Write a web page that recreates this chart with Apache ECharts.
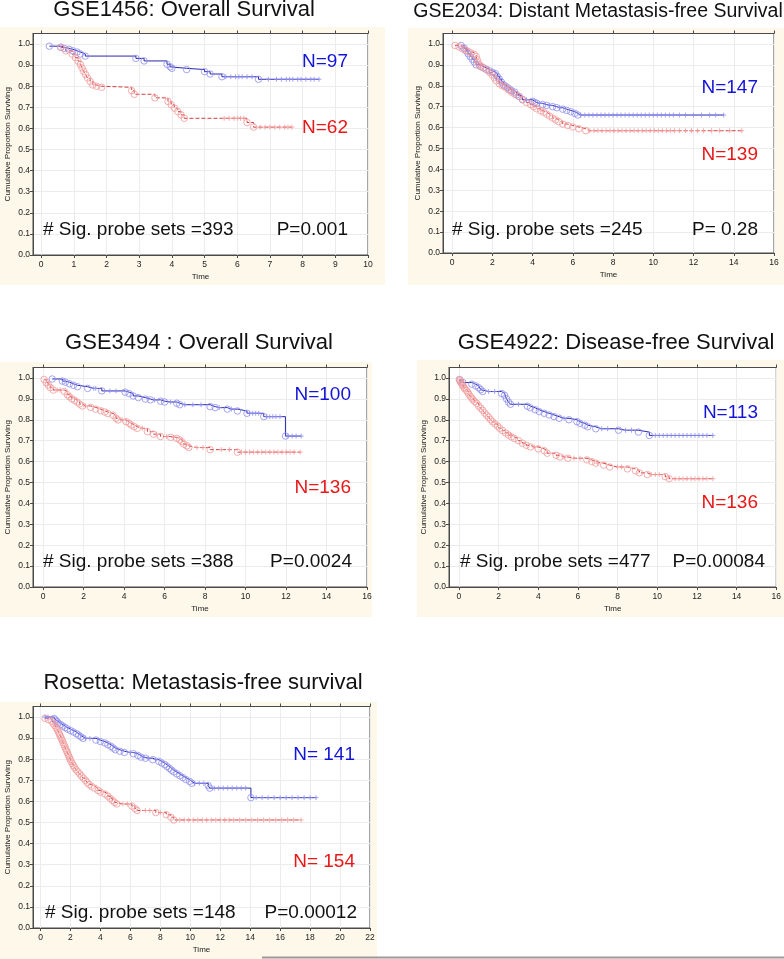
<!DOCTYPE html>
<html><head><meta charset="utf-8">
<script src="https://cdn.jsdelivr.net/npm/echarts@6/dist/echarts.min.js"></script>
<style>html,body{margin:0;padding:0;background:#fff}#c{width:784px;height:959px}</style>
</head><body><div id="c"></div>
<script>
// ---------------- DATA ----------------
const titles = ['GSE1456: Overall Survival', 'GSE2034: Distant Metastasis-free Survival', 'GSE3494 : Overall Survival', 'GSE4922: Disease-free Survival', 'Rosetta: Metastasis-free survival'];
const blueLabels = ['N=97', 'N=147', 'N=100', 'N=113', 'N= 141'];
const redLabels = ['N=62', 'N=139', 'N=136', 'N=136', 'N= 154'];
const sigLabels = ['# Sig. probe sets =393', '# Sig. probe sets =245', '# Sig. probe sets =388', '# Sig. probe sets =477', '# Sig. probe sets =148'];
const pLabels = ['P=0.001', 'P= 0.28', 'P=0.0024', 'P=0.00084', 'P=0.00012'];

const xTicks10 = [0,1,2,3,4,5,6,7,8,9,10];
const xTicks16 = [0,2,4,6,8,10,12,14,16];
const xTicks22 = [0,2,4,6,8,10,12,14,16,18,20,22];
const yTicks = [0,0.1,0.2,0.3,0.4,0.5,0.6,0.7,0.8,0.9,1.0];
const xMax = [10, 16, 16, 16, 22];

// Kaplan-Meier events [time, survival after event] and censored times
const p1BlueEvents = [[0.25,0.99],[0.6,0.985],[0.7,0.98],[0.85,0.975],[0.97,0.968],[1.1,0.962],[1.2,0.953],[1.35,0.943],[2.9,0.932],[3.15,0.92],[3.85,0.904],[3.95,0.892],[4.0,0.885],[4.45,0.879],[5.0,0.869],[5.17,0.858],[5.53,0.845],[6.65,0.833]];
const p1BlueCens = [5.65,5.8,5.95,6.05,6.15,6.3,6.45,6.95,7.2,7.35,7.5,7.6,7.7,7.85,7.95,8.1,8.25,8.35,8.5];
const p1RedEvents = [[0.6,0.984],[0.75,0.968],[0.95,0.952],[1.05,0.935],[1.13,0.919],[1.2,0.903],[1.25,0.887],[1.3,0.871],[1.36,0.855],[1.42,0.839],[1.5,0.823],[1.58,0.806],[1.7,0.8],[1.85,0.795],[2.77,0.779],[2.85,0.762],[3.48,0.745],[3.88,0.728],[3.98,0.712],[4.08,0.696],[4.18,0.68],[4.28,0.664],[4.38,0.648],[6.3,0.628],[6.5,0.606]];
const p1RedCens = [5.6,5.75,5.9,6.0,6.1,6.2,6.7,6.85,7.0,7.15,7.3,7.45,7.55,7.67];

const p2BlueEvents = [[0.45,0.993],[0.6,0.98],[0.7,0.967],[0.8,0.953],[0.9,0.94],[1.0,0.927],[1.1,0.914],[1.2,0.9],[1.4,0.893],[1.55,0.886],[1.7,0.879],[1.85,0.872],[2.0,0.865],[2.15,0.858],[2.25,0.845],[2.35,0.832],[2.45,0.818],[2.55,0.805],[2.65,0.798],[2.75,0.791],[2.85,0.784],[2.95,0.777],[3.1,0.77],[3.2,0.757],[3.35,0.748],[3.5,0.733],[4.0,0.726],[4.1,0.72],[4.2,0.716],[4.5,0.71],[4.7,0.706],[5.0,0.7],[5.2,0.695],[5.5,0.688],[5.7,0.682],[5.9,0.676],[6.1,0.668],[6.25,0.66]];
const p2BlueCens = [3.7,4.35,4.85,5.35,6.4,6.6,6.8,7.0,7.2,7.4,7.6,7.8,8.0,8.2,8.4,8.6,8.8,9.0,9.2,9.4,9.6,9.8,10.0,10.2,10.4,10.6,10.8,11.0,11.3,11.6,12.0,12.4,12.8,13.1,13.5];
const p2RedEvents = [[0.15,0.993],[0.35,0.986],[0.5,0.978],[0.65,0.971],[0.8,0.964],[0.95,0.957],[1.1,0.95],[1.2,0.94],[1.25,0.925],[1.3,0.91],[1.35,0.9],[1.45,0.893],[1.55,0.886],[1.7,0.878],[1.85,0.864],[2.0,0.852],[2.1,0.838],[2.2,0.824],[2.35,0.81],[2.5,0.8],[2.65,0.793],[2.8,0.781],[2.95,0.77],[3.1,0.76],[3.3,0.75],[3.5,0.735],[3.7,0.72],[3.9,0.71],[4.05,0.7],[4.2,0.69],[4.4,0.68],[4.55,0.673],[4.7,0.664],[4.85,0.655],[5.0,0.645],[5.15,0.637],[5.3,0.628],[5.5,0.617],[5.75,0.61],[6.0,0.603],[6.3,0.594],[6.65,0.585]];
const p2RedCens = [6.85,7.05,7.25,7.45,7.65,7.85,8.05,8.25,8.45,8.65,8.85,9.05,9.25,9.45,9.65,9.85,10.05,10.25,10.45,10.65,10.85,11.05,11.3,11.6,11.9,12.2,12.5,12.9,13.3,13.8,14.4];

const p3BlueEvents = [[0.45,0.995],[0.95,0.985],[1.1,0.98],[1.3,0.972],[1.5,0.965],[1.7,0.958],[2.2,0.95],[2.9,0.938],[4.05,0.932],[4.25,0.925],[4.45,0.914],[4.7,0.906],[5.05,0.899],[5.3,0.895],[5.8,0.889],[6.0,0.885],[6.6,0.879],[6.75,0.872],[8.25,0.863],[8.5,0.858],[9.1,0.851],[9.6,0.842],[10.07,0.831],[10.9,0.815],[11.97,0.722]];
const p3BlueCens = [2.5,2.6,3.3,3.6,5.5,6.3,7.0,7.4,7.8,8.7,9.3,10.2,10.35,10.5,10.65,11.05,11.2,11.35,11.5,11.7,12.1,12.3,12.5,12.75];
const p3RedEvents = [[0.05,0.993],[0.15,0.978],[0.25,0.966],[0.35,0.954],[0.5,0.942],[1.05,0.935],[1.2,0.92],[1.3,0.91],[1.42,0.9],[1.55,0.893],[1.68,0.885],[1.8,0.875],[1.93,0.866],[2.35,0.859],[2.6,0.851],[2.85,0.843],[3.05,0.837],[3.2,0.83],[3.45,0.822],[3.6,0.807],[3.7,0.799],[4.1,0.791],[4.25,0.783],[4.35,0.775],[4.5,0.767],[4.65,0.759],[5.15,0.743],[5.45,0.731],[5.8,0.72],[6.3,0.716],[6.6,0.711],[6.75,0.703],[6.85,0.695],[6.95,0.683],[7.1,0.675],[7.2,0.667],[8.25,0.657],[9.6,0.645]];
const p3RedCens = [0.7,0.85,2.1,3.9,4.9,5.6,6.1,6.45,7.6,7.9,8.8,9.2,9.8,10.0,10.2,10.4,10.6,10.8,11.0,11.2,11.4,11.6,11.8,12.0,12.2,12.4,12.7];

const p4BlueEvents = [[0.05,0.991],[0.2,0.978],[0.65,0.97],[0.85,0.962],[1.0,0.953],[1.1,0.944],[1.2,0.935],[2.15,0.926],[2.3,0.917],[2.4,0.9],[2.5,0.885],[2.6,0.874],[3.45,0.865],[3.6,0.857],[3.85,0.848],[4.05,0.839],[4.3,0.831],[4.55,0.823],[4.8,0.815],[5.05,0.807],[5.55,0.8],[5.95,0.791],[6.1,0.783],[6.35,0.774],[6.5,0.766],[6.9,0.757],[8.05,0.75],[9.05,0.741],[9.6,0.725]];
const p4BlueCens = [1.5,1.8,3.0,5.3,7.2,7.5,8.4,8.7,9.9,10.1,10.3,10.5,10.7,10.9,11.1,11.3,11.5,11.7,11.9,12.1,12.3,12.5,12.8];
const p4RedEvents = [[0.02,0.993],[0.05,0.985],[0.1,0.978],[0.15,0.97],[0.2,0.963],[0.25,0.955],[0.3,0.948],[0.38,0.94],[0.45,0.932],[0.5,0.922],[0.58,0.912],[0.65,0.903],[0.72,0.895],[0.8,0.887],[0.9,0.878],[1.0,0.866],[1.1,0.855],[1.2,0.845],[1.3,0.832],[1.4,0.822],[1.5,0.812],[1.6,0.8],[1.7,0.79],[1.82,0.78],[1.95,0.77],[2.05,0.759],[2.2,0.748],[2.35,0.737],[2.5,0.727],[2.65,0.718],[2.8,0.71],[3.0,0.7],[3.2,0.688],[3.4,0.678],[3.6,0.67],[4.0,0.661],[4.3,0.652],[4.45,0.64],[4.9,0.63],[5.1,0.622],[5.5,0.616],[6.45,0.608],[6.7,0.6],[6.9,0.592],[7.3,0.583],[7.6,0.574],[8.5,0.565],[8.9,0.556],[9.1,0.546],[9.5,0.538],[10.4,0.528],[10.6,0.518]];
const p4RedCens = [2.6,3.8,5.3,5.8,6.1,7.0,8.0,8.2,9.7,9.9,10.1,10.9,11.1,11.3,11.5,11.7,11.9,12.1,12.3,12.5,12.8];

const p5BlueEvents = [[0.9,0.993],[1.0,0.986],[1.1,0.979],[1.2,0.971],[1.35,0.964],[1.5,0.957],[1.65,0.95],[1.8,0.943],[2.0,0.936],[2.2,0.929],[2.4,0.921],[2.55,0.914],[2.7,0.906],[2.85,0.899],[3.7,0.891],[4.0,0.884],[4.3,0.877],[4.5,0.869],[4.7,0.861],[4.85,0.853],[5.0,0.845],[5.3,0.838],[5.6,0.832],[6.2,0.826],[6.5,0.818],[6.7,0.81],[7.0,0.805],[7.5,0.798],[7.9,0.79],[8.1,0.782],[8.3,0.774],[8.45,0.766],[8.6,0.757],[8.75,0.748],[8.9,0.74],[9.1,0.731],[9.3,0.722],[9.5,0.713],[9.7,0.704],[9.95,0.695],[10.1,0.686],[11.2,0.675],[11.3,0.663],[14.05,0.618]];
const p5BlueCens = [0.3,0.5,3.0,3.3,6.0,6.9,7.2,7.7,10.3,10.6,10.9,11.6,11.9,12.2,12.5,12.8,13.1,13.4,13.7,14.4,14.8,15.2,15.6,16.0,16.4,16.8,17.2,17.6,18.0,18.4];
const p5RedEvents = [[0.3,0.994],[0.55,0.987],[0.75,0.98],[0.85,0.97],[0.95,0.96],[1.05,0.95],[1.12,0.94],[1.2,0.93],[1.26,0.92],[1.32,0.91],[1.38,0.9],[1.44,0.89],[1.5,0.88],[1.56,0.87],[1.62,0.86],[1.68,0.85],[1.74,0.84],[1.8,0.83],[1.86,0.82],[1.92,0.81],[1.98,0.8],[2.04,0.79],[2.12,0.78],[2.2,0.77],[2.28,0.76],[2.38,0.75],[2.5,0.74],[2.62,0.73],[2.74,0.72],[2.86,0.71],[3.0,0.7],[3.12,0.69],[3.25,0.68],[3.4,0.672],[3.6,0.663],[3.85,0.652],[4.0,0.644],[4.3,0.635],[4.5,0.625],[4.65,0.615],[4.8,0.605],[4.95,0.595],[5.1,0.588],[6.1,0.578],[6.3,0.567],[6.45,0.557],[7.7,0.547],[8.4,0.537],[8.7,0.525],[8.9,0.512]];
const p5RedCens = [5.5,5.8,7.0,7.3,8.0,9.3,9.6,9.9,10.2,10.5,10.8,11.1,11.4,11.7,12.0,12.3,12.6,12.9,13.3,13.7,14.1,14.5,14.9,15.3,15.7,16.1,16.5,16.9,17.4];

// ---------------- LAYOUT ----------------
const FONT = 'Liberation Sans, Arial, Helvetica, sans-serif';
const panels = [
  {grid:{left:33, top:33.5, width:335, height:221.5}, xMin:-0.25, xTicks:xTicks10, bg:[0,27,385,258], title:[184,10,22],
   blue:p1BlueEvents, blueC:p1BlueCens, red:p1RedEvents, redC:p1RedCens, nB:[348,62], nR:[348,128], sig:[43,230], p:[348,230]},
  {grid:{left:443, top:33.5, width:331, height:219.5}, xMin:-0.45, xTicks:xTicks16, bg:[408,28,376,257], title:[598,12,19.5],
   blue:p2BlueEvents, blueC:p2BlueCens, red:p2RedEvents, redC:p2RedCens, nB:[758,88], nR:[758,155], sig:[452,230], p:[758,230]},
  {grid:{left:33, top:367.5, width:334, height:219.5}, xMin:-0.5, xTicks:xTicks16, bg:[0,362,372,255], title:[199,343,22],
   blue:p3BlueEvents, blueC:p3BlueCens, red:p3RedEvents, redC:p3RedCens, nB:[351,395], nR:[351,488], sig:[43,562], p:[352,562]},
  {grid:{left:449, top:367.5, width:328, height:219.5}, xMin:-0.5, xTicks:xTicks16, bg:[417,360,367,257], title:[616,343,22],
   blue:p4BlueEvents, blueC:p4BlueCens, red:p4RedEvents, redC:p4RedCens, nB:[758,413], nR:[758,503], sig:[460,562], p:[765,562]},
  {grid:{left:33, top:706.5, width:337, height:221.5}, xMin:-0.5, xTicks:xTicks22, bg:[0,702,377,257], title:[203,683,22],
   blue:p5BlueEvents, blueC:p5BlueCens, red:p5RedEvents, redC:p5RedCens, nB:[355,755], nR:[355,862], sig:[45,913], p:[357,913]}
];

const BLUE_LINE = '#2828b0', BLUE_MARK = '#8e8ef0', RED_LINE = '#d43c3c', RED_MARK = '#f29a9a';
const PLUS = 'path://M5,0 L5,10 M0,5 L10,5';

function survAt(events, c) {
  let s = 1;
  events.forEach(e => { if (e[0] <= c) s = e[1]; });
  return s;
}
function curve(events, cens) {
  const pts = events.map(e => [e[0], e[1]]);
  cens.forEach(c => pts.push([c, survAt(events, c)]));
  pts.sort((a, b) => a[0] - b[0]);
  return pts;
}
function censPts(events, cens) {
  return cens.map(c => [c, survAt(events, c)]);
}

const grids = [], xAxes = [], yAxes = [], series = [], graphics = [];
panels.forEach((p, i) => {
  grids.push(Object.assign({show:true, backgroundColor:'#ffffff', borderColor:'#4a4a4a', borderWidth:1, containLabel:false}, p.grid));
  xAxes.push({
    type:'value', gridIndex:i, min:p.xMin, max:xMax[i], position:'bottom',
    name:'Time', nameLocation:'middle', nameGap:18,
    nameTextStyle:{fontSize:8, color:'#222', fontFamily:FONT},
    axisLine:{show:true, onZero:false, lineStyle:{color:'#4a4a4a'}},
    axisTick:{show:true, length:3, customValues:p.xTicks, lineStyle:{color:'#4a4a4a'}},
    axisLabel:{customValues:p.xTicks, fontSize:8.5, color:'#222', margin:5, fontFamily:FONT, formatter:v => String(v)},
    splitLine:{show:true, lineStyle:{color:'#ececec', width:1}}
  });
  xAxes.push({
    type:'value', gridIndex:i, min:p.xMin, max:xMax[i], position:'top',
    axisLine:{show:true, onZero:false, lineStyle:{color:'#4a4a4a'}},
    axisTick:{show:true, length:3, customValues:p.xTicks, lineStyle:{color:'#4a4a4a'}},
    axisLabel:{show:false}, splitLine:{show:false}
  });
  yAxes.push({
    type:'value', gridIndex:i, min:0, max:1.05,
    name:'Cumulative Proportion Surviving', nameLocation:'middle', nameGap:21,
    nameTextStyle:{fontSize:8, color:'#222', fontFamily:FONT},
    axisLine:{show:true, onZero:false, lineStyle:{color:'#4a4a4a'}},
    axisTick:{show:true, length:3, customValues:yTicks, lineStyle:{color:'#4a4a4a'}},
    axisLabel:{customValues:yTicks, fontSize:8.5, color:'#222', margin:3, fontFamily:FONT, formatter:v => v.toFixed(1)},
    splitLine:{show:true, lineStyle:{color:'#ececec', width:1}}
  });
  const xi = 2 * i;
  series.push({type:'line', xAxisIndex:xi, yAxisIndex:i, step:'end', showSymbol:false, silent:true,
    data:curve(p.blue, p.blueC), lineStyle:{color:BLUE_LINE, width:1}, z:3});
  series.push({type:'line', xAxisIndex:xi, yAxisIndex:i, step:'end', showSymbol:false, silent:true,
    data:curve(p.red, p.redC), lineStyle:{color:RED_LINE, width:1, type:[4,2]}, z:3});
  series.push({type:'scatter', xAxisIndex:xi, yAxisIndex:i, symbol:'circle', symbolSize:6.5, silent:true,
    data:p.blue, itemStyle:{color:'rgba(0,0,0,0)', borderColor:BLUE_MARK, borderWidth:1}, z:4});
  series.push({type:'scatter', xAxisIndex:xi, yAxisIndex:i, symbol:'circle', symbolSize:6.5, silent:true,
    data:p.red, itemStyle:{color:'rgba(0,0,0,0)', borderColor:RED_MARK, borderWidth:1}, z:4});
  series.push({type:'scatter', xAxisIndex:xi, yAxisIndex:i, symbol:PLUS, symbolSize:5, silent:true,
    data:censPts(p.blue, p.blueC), itemStyle:{color:'rgba(0,0,0,0)', borderColor:BLUE_MARK, borderWidth:1}, z:4});
  series.push({type:'scatter', xAxisIndex:xi, yAxisIndex:i, symbol:PLUS, symbolSize:5, silent:true,
    data:censPts(p.red, p.redC), itemStyle:{color:'rgba(0,0,0,0)', borderColor:RED_MARK, borderWidth:1}, z:4});

  graphics.push({type:'rect', z:-100, shape:{x:p.bg[0], y:p.bg[1], width:p.bg[2], height:p.bg[3]}, style:{fill:'#fdf8ea'}, silent:true});
  graphics.push({type:'text', x:p.title[0], y:p.title[1], z:10, style:{text:titles[i], fontSize:p.title[2], fontFamily:FONT, fill:'#111', align:'center', verticalAlign:'middle'}});
  graphics.push({type:'text', x:p.nB[0], y:p.nB[1], z:10, style:{text:blueLabels[i], fontSize:19, fontFamily:FONT, fill:'#1414d8', align:'right', verticalAlign:'middle'}});
  graphics.push({type:'text', x:p.nR[0], y:p.nR[1], z:10, style:{text:redLabels[i], fontSize:19, fontFamily:FONT, fill:'#e81818', align:'right', verticalAlign:'middle'}});
  graphics.push({type:'text', x:p.sig[0], y:p.sig[1], z:10, style:{text:sigLabels[i], fontSize:19, fontFamily:FONT, fill:'#111', align:'left', verticalAlign:'middle'}});
  graphics.push({type:'text', x:p.p[0], y:p.p[1], z:10, style:{text:pLabels[i], fontSize:19, fontFamily:FONT, fill:'#111', align:'right', verticalAlign:'middle'}});
});
graphics.push({type:'line', z:10, shape:{x1:262, y1:957.5, x2:784, y2:957.5}, style:{stroke:'#9a9a9a', lineWidth:2}});

const chart = echarts.init(document.getElementById('c'), null, {renderer:'canvas'});
chart.setOption({
  animation:false,
  backgroundColor:'#ffffff',
  grid:grids, xAxis:xAxes, yAxis:yAxes, series:series,
  graphic:{elements:graphics}
});
</script></body></html>
